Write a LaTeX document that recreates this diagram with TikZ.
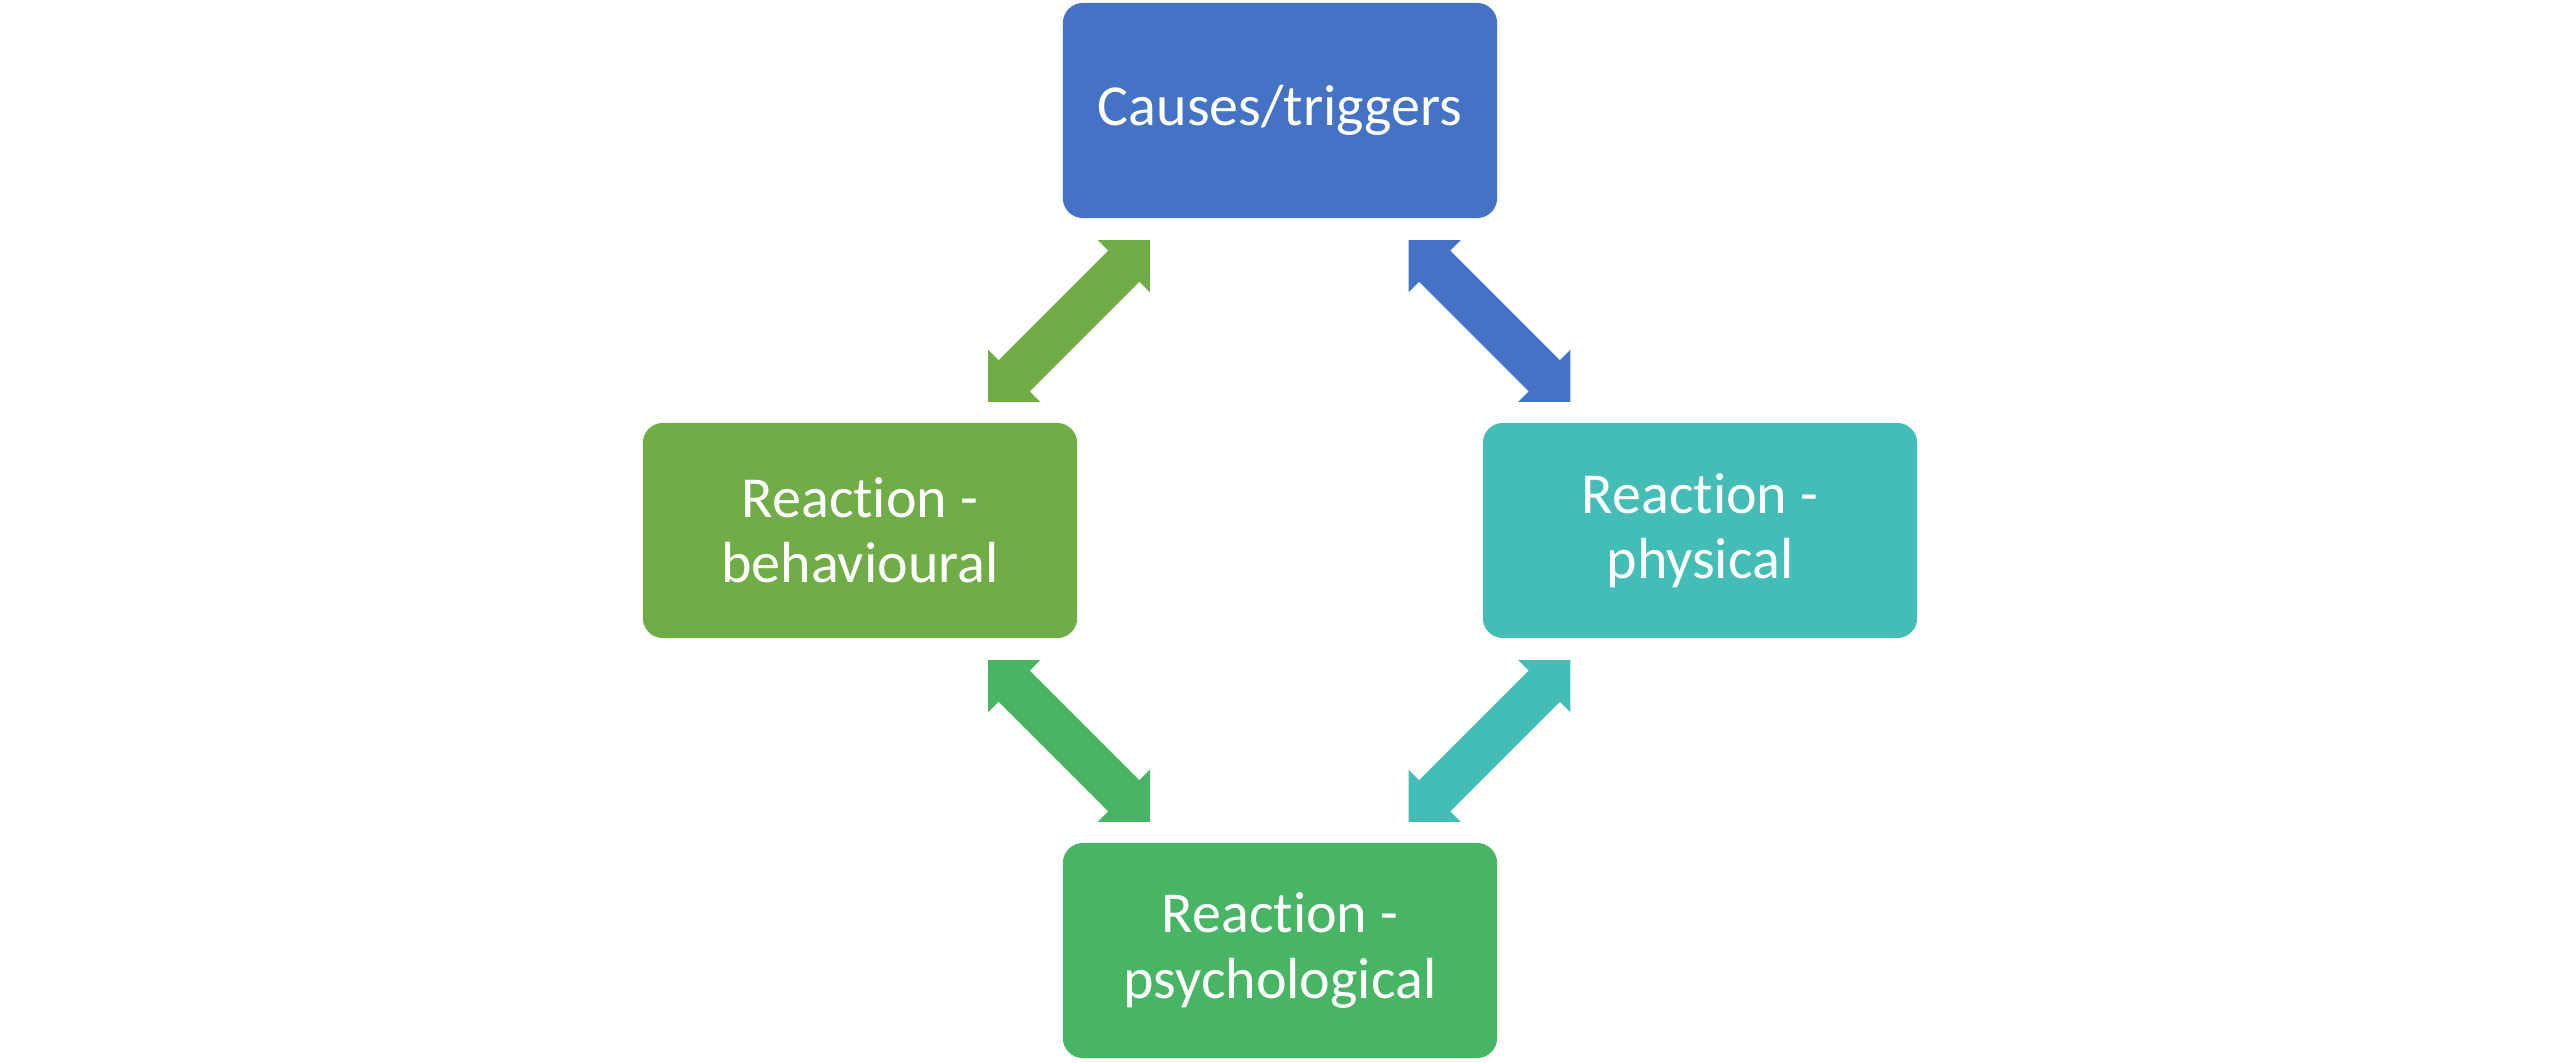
\documentclass[tikz,border=0pt]{standalone}
\usepackage{fontspec}
\setmainfont{Carlito}[Ligatures={NoCommon}]
\definecolor{cblue}{HTML}{4472C4}
\definecolor{cgreen}{HTML}{70AD47}
\definecolor{cteal}{HTML}{45BDB7}
\definecolor{cgreenb}{HTML}{47B563}
\begin{document}
\begin{tikzpicture}[x=0.01cm,y=0.01cm,
  box/.style={rounded corners=0.2cm, minimum width=4.34cm, minimum height=2.15cm,
    inner sep=0pt, text=white, align=center, font=\fontsize{16.5}{18.5}\selectfont},
  pics/dblarrow/.style={code={
    \fill[#1] (114.5,0) -- (77.5,37) -- (77.5,22) -- (-77.5,22) -- (-77.5,37)
      -- (-114.5,0) -- (-77.5,-37) -- (-77.5,-22) -- (77.5,-22) -- (77.5,-37) -- cycle;}}
]
\useasboundingbox (0,0) rectangle (2560,1062);
\node[box, fill=cblue]   (top)    at (1280,951.5) {Causes/triggers};
\node[box, fill=cgreen]  (left)   at (860,531.5)  {Reaction -\\behavioural};
\node[box, fill=cteal]   (right)  at (1700,531.5) {Reaction -\\physical};
\node[box, fill=cgreenb] (bottom) at (1280,111.5) {Reaction -\\psychological};
\coordinate (tl) at (1069,741);
\coordinate (tr) at (1489.5,741);
\coordinate (bl) at (1069,321);
\coordinate (br) at (1489.5,321);
\pic[rotate=45]  at (tl) {dblarrow=cgreen};
\pic[rotate=-45] at (tr) {dblarrow=cblue};
\pic[rotate=-45] at (bl) {dblarrow=cgreenb};
\pic[rotate=45]  at (br) {dblarrow=cteal};
\end{tikzpicture}
\end{document}
